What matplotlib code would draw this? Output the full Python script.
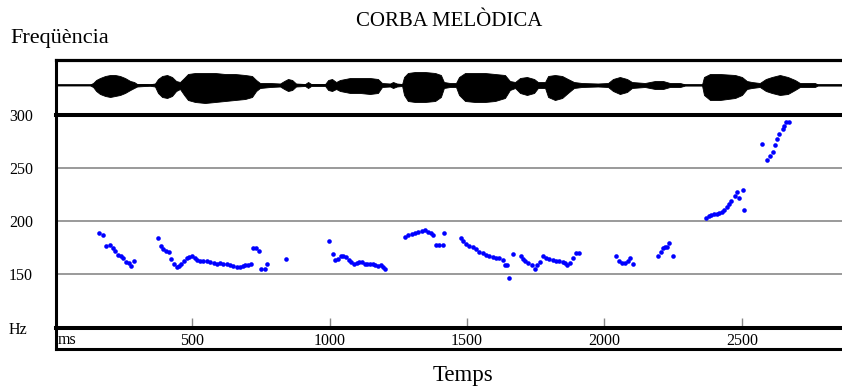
import matplotlib
matplotlib.use("Agg")
import matplotlib.pyplot as plt
import numpy as np

plt.rcParams['font.family'] = ['Liberation Serif', 'DejaVu Serif']

# ---- Pitch data (ms, Hz) ----
pitch_t = [163, 177, 187, 202, 212, 221, 231, 241, 250, 260, 270, 277, 287,
           376, 386, 396, 405, 417, 425, 435, 444, 454, 461, 471, 481, 490, 500,
           510, 519, 529, 541, 553, 565, 578, 590, 602, 614, 626, 638, 650, 662,
           675, 684, 694, 704, 713,
           723, 733, 742, 752, 764, 772, 842,
           997, 1012, 1021, 1031, 1041, 1050, 1060, 1070, 1079, 1089, 1099, 1108,
           1118, 1128, 1137, 1147, 1157, 1167, 1176, 1186, 1193, 1203,
           1275, 1287, 1299, 1311, 1323, 1335, 1347, 1357, 1369, 1377, 1386, 1398,
           1412, 1415,
           1478, 1487, 1496, 1508, 1521, 1533, 1545, 1557, 1569, 1581, 1593, 1605,
           1617, 1630, 1639, 1647, 1653,
           1666, 1696, 1705, 1712, 1723, 1735, 1746, 1756, 1765, 1775, 1787, 1799,
           1812, 1824, 1836, 1848, 1857, 1865, 1875, 1887, 1896, 1906,
           2043, 2054, 2064, 2075, 2084, 2093, 2103,
           2195, 2204, 2212, 2220, 2228, 2235, 2248,
           2369, 2379, 2389, 2398, 2408, 2417, 2427, 2436, 2444, 2453, 2462, 2473,
           2481, 2490, 2503, 2508,
           2573, 2590, 2601, 2612, 2621, 2626, 2636, 2648, 2653, 2660, 2670]
pitch_hz = [189, 187, 177, 178, 175, 172, 168, 167, 165, 162, 161, 158, 163,
            184, 177, 174, 172, 171, 164.5, 160, 157, 158, 160, 163, 165, 166, 167,
            165.5, 164, 163, 163, 163, 162, 161, 160, 160.5, 160, 160, 158.5, 158, 157,
            157, 157.5, 159, 159, 160,
            175, 175, 172, 155, 155, 160, 164.5,
            181, 169, 164, 164.5, 167.5, 167, 166, 164, 162, 160, 161, 162,
            161.5, 160, 160, 160, 160, 159, 158, 158.5, 157, 155,
            185.5, 187, 188, 188.5, 189.5, 190.5, 192, 190, 189, 187, 178, 178,
            178, 189,
            184, 181, 178.5, 177, 175.5, 173.5, 171.5, 170, 168.5, 167, 166, 165.5,
            165, 164, 158.5, 158.5, 146.5,
            169, 167.5, 164.5, 163, 161, 159, 155.5, 159, 161.5, 167, 165, 164.5,
            164, 163, 162.5, 162, 161, 158.5, 161, 165, 170, 170.5,
            167.5, 163, 160.5, 161, 163, 165, 160,
            167.5, 171.5, 175, 175.5, 175.5, 179.5, 167.5,
            203.5, 204.5, 205.5, 206.5, 207, 207.5, 209, 211, 213, 216, 219, 223.5,
            228, 222, 229.5, 211,
            273, 257.5, 261, 265, 271.5, 277, 282, 287, 289.5, 293, 293]

# ---- Waveform envelope (ms, upper amplitude, lower amplitude) ----
wave_t = [9, 129, 140, 151, 165, 184, 202, 220, 238, 256, 275, 289, 300, 329, 347,
          365, 376, 391, 409, 427, 442, 456, 471, 485, 511, 547, 584, 620, 656, 693,
          718, 733, 747, 784, 820, 835, 849, 864, 878, 911, 922, 933, 984, 995, 1009,
          1024, 1038, 1075, 1111, 1147, 1176, 1191, 1220, 1231, 1245, 1264, 1271,
          1285, 1311, 1347, 1384, 1405, 1416, 1438, 1460, 1471, 1493, 1529, 1565,
          1602, 1638, 1656, 1675, 1693, 1718, 1744, 1758, 1784, 1795, 1820, 1846,
          1867, 1889, 1918, 1976, 2013, 2031, 2056, 2082, 2100, 2147, 2184, 2213,
          2238, 2275, 2293, 2355, 2362, 2384, 2420, 2475, 2500, 2518, 2536, 2565,
          2587, 2609, 2638, 2667, 2693, 2711, 2765, 2776, 2864]
wave_up = [0.5, 0.5, 2, 5, 7, 9, 10, 10, 9, 7, 4, 3, 1, 1, 0.8,
           1.5, 6, 9, 10, 8, 4, 3, 7, 11, 12, 12, 12, 11, 11, 10,
           9, 5, 2, 2, 1.5, 4, 6, 5, 1.5, 1, 3, 1, 1, 5, 6,
           3, 5, 7, 7, 7, 6, 2, 1.5, 3, 1.5, 1, 8,
           12, 13, 13, 12, 10, 3, 2, 2, 8, 12, 12, 12,
           11, 10, 4, 3, 7, 8, 6, 3, 3, 9, 10, 9,
           6, 3, 2, 1.5, 2, 6, 8, 6, 3, 2, 4, 4,
           2, 2, 0.6, 0.6, 8, 11, 11, 10, 8, 4, 3, 2,
           6, 8, 10, 8, 5, 2, 2, 0.6, 0.6]
wave_lo = [0.5, 0.5, 2, 6, 9, 11, 12, 11, 10, 8, 5, 3, 1.5, 1, 0.8,
           1.5, 8, 12, 13, 11, 6, 4, 10, 15, 17, 18, 17, 16, 15, 14,
           12, 6, 3, 2, 1.5, 4, 6, 5, 1.5, 1, 3, 1, 1, 5, 6,
           4, 6, 8, 8, 9, 8, 2, 1.5, 3, 1.5, 1, 10,
           16, 17, 17, 16, 12, 3, 2, 2, 10, 16, 17, 17,
           16, 13, 5, 3, 8, 10, 8, 3, 3, 12, 15, 13,
           8, 3, 2, 1.5, 2, 6, 9, 7, 3, 2, 4, 4,
           2, 2, 0.6, 0.6, 10, 15, 15, 13, 10, 4, 3, 2,
           6, 8, 10, 9, 5, 2, 2, 0.6, 0.6]

x_ticks = [500, 1000, 1500, 2000, 2500]
y_ticks = [100, 150, 200, 250, 300]
y_labels = ['Hz', '150', '200', '250', '300']

XMIN, XMAX = 5, 2864

fig = plt.figure(figsize=(8.42, 3.88), dpi=100)
L, R = 56 / 842, 1.0
W = R - L

def fy(py):
    return 1 - py / 388

ax_w = fig.add_axes([L, fy(115), W, fy(60) - fy(115)])
ax = fig.add_axes([L, fy(327.5), W, fy(115) - fy(327.5)])
ax_s = fig.add_axes([L, fy(349), W, fy(327.5) - fy(349)])

# waveform strip
wt = np.array(wave_t)
ax_w.fill_between(wt, np.array(wave_up), -np.array(wave_lo), color='black', lw=0.6)
ax_w.plot([XMIN, XMAX], [0, 0], color='black', lw=1.1)
ax_w.set_xlim(XMIN, XMAX)
ax_w.set_ylim(-30, 25)
ax_w.set_xticks([]); ax_w.set_yticks([])
for s in ['right', 'bottom']:
    ax_w.spines[s].set_visible(False)
ax_w.spines['top'].set_linewidth(2.3)
ax_w.spines['left'].set_linewidth(2.2)

# main pitch plot
for g in [150, 200, 250]:
    ax.axhline(g, color='#9a9a9a', lw=1.4, zorder=1)
ax.plot(pitch_t, pitch_hz, 'o', color='#0000ff', ms=3.3, mew=0, zorder=3)
ax.set_xlim(XMIN, XMAX)
ax.set_ylim(100, 300)
ax.set_xticks(x_ticks)
ax.set_xticklabels([str(v) for v in x_ticks])
ax.tick_params(axis='x', direction='in', length=7, width=1, color='#888888',
               pad=4, labelsize=11.5)
ax.set_yticks(y_ticks)
ax.set_yticklabels(y_labels)
ax.tick_params(axis='y', length=0, pad=34, labelsize=11.5)
for lab in ax.get_yticklabels():
    lab.set_horizontalalignment('left')
ax.spines['right'].set_visible(False)
ax.spines['top'].set_linewidth(2.9)
ax.spines['bottom'].set_linewidth(2.9)
ax.spines['left'].set_linewidth(2.2)

# bottom label strip
ax_s.set_xlim(XMIN, XMAX)
ax_s.set_xticks([]); ax_s.set_yticks([])
ax_s.patch.set_alpha(0)
for s in ['right', 'top']:
    ax_s.spines[s].set_visible(False)
ax_s.spines['bottom'].set_linewidth(2.2)
ax_s.spines['left'].set_linewidth(2.2)
ax_s.text(12, 0.4, 'ms', transform=ax_s.get_xaxis_transform(), ha='left',
          va='center', fontsize=11.5)

fig.text(449 / 842, fy(22), 'CORBA MELÒDICA', ha='center', va='center', fontsize=15)
fig.text(10 / 842, fy(38), 'Freqüència', ha='left', va='center', fontsize=16)
fig.text(463 / 842, fy(376), 'Temps', ha='center', va='center', fontsize=16.5)

fig.savefig('out.png', dpi=100)
